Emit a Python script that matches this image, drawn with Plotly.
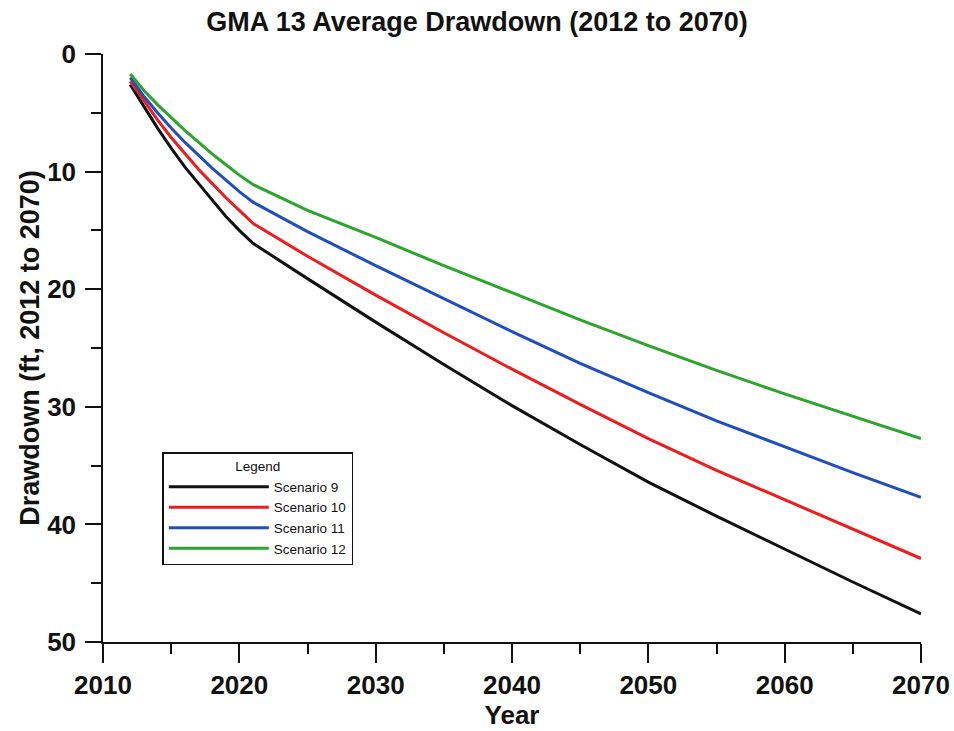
import plotly.graph_objects as go

# Simulated average drawdown (ft) for GMA 13, 2012-2070
years = [2012, 2013, 2014, 2015, 2016, 2017, 2018, 2019, 2020, 2021,
         2025, 2030, 2035, 2040, 2045, 2050, 2055, 2060, 2065, 2070]

scenario_9 = [2.6, 4.5, 6.3, 8.0, 9.6, 11.0, 12.4, 13.8, 15.0, 16.1,
              19.1, 22.8, 26.4, 29.9, 33.2, 36.4, 39.3, 42.1, 44.9, 47.6]
scenario_10 = [2.3, 4.0, 5.6, 7.1, 8.5, 9.8, 11.0, 12.2, 13.3, 14.4,
               17.2, 20.5, 23.7, 26.8, 29.8, 32.7, 35.4, 37.9, 40.4, 42.9]
scenario_11 = [2.0, 3.6, 5.0, 6.3, 7.5, 8.6, 9.7, 10.7, 11.7, 12.6,
               15.1, 18.0, 20.8, 23.6, 26.3, 28.8, 31.2, 33.4, 35.6, 37.7]
scenario_12 = [1.7, 3.1, 4.3, 5.4, 6.5, 7.5, 8.5, 9.4, 10.3, 11.1,
               13.3, 15.6, 18.0, 20.3, 22.6, 24.8, 26.9, 28.9, 30.8, 32.7]

series = [
    ("Scenario 9", scenario_9, "#111111"),
    ("Scenario 10", scenario_10, "#ee1c1c"),
    ("Scenario 11", scenario_11, "#1f4fbf"),
    ("Scenario 12", scenario_12, "#2ca52c"),
]

x_ticks = [2010, 2020, 2030, 2040, 2050, 2060, 2070]
y_ticks = [0, 10, 20, 30, 40, 50]

FONT = "Liberation Sans, Arial, sans-serif"

fig = go.Figure()
for name, vals, color in series:
    fig.add_trace(go.Scatter(
        x=years, y=vals, name=name, mode="lines",
        line=dict(color=color, width=3),
    ))

fig.update_layout(
    width=954, height=731,
    margin=dict(l=103, r=33, t=54, b=89, autoexpand=False),
    paper_bgcolor="white", plot_bgcolor="white",
    font=dict(family=FONT, color="#111111"),
    title=dict(
        text="<b>GMA 13 Average Drawdown (2012 to 2070)</b>",
        font=dict(size=27, family=FONT, color="#111111"),
        x=0.5, xanchor="center", xref="container",
        y=0.970, yanchor="middle",
    ),
    showlegend=True,
    legend=dict(
        x=0.0725, y=0.3226, xanchor="left", yanchor="top",
        bgcolor="white", bordercolor="#111111", borderwidth=1.5,
        font=dict(size=13.5, family=FONT, color="#111111"),
        title=dict(text="Legend", side="top center",
                   font=dict(size=13.5, family=FONT, color="#111111")),
        itemwidth=100,
        tracegroupgap=0,
    ),
)

fig.update_xaxes(
    range=[2010, 2070], tickvals=x_ticks,
    ticktext=[f"<b>{v}</b>" for v in x_ticks],
    automargin=False,
    showgrid=False, zeroline=False,
    showline=True, linecolor="#111111", linewidth=1.5,
    ticks="outside", ticklen=19, tickwidth=1.5, tickcolor="#111111",
    minor=dict(dtick=5, tick0=2010, ticks="outside", ticklen=10,
               tickwidth=1.5, tickcolor="#111111", showgrid=False),
    tickfont=dict(size=26, family=FONT, color="#111111"),
    title=dict(text="<b>Year</b>", standoff=0,
               font=dict(size=26, family=FONT, color="#111111")),
)

fig.update_yaxes(
    range=[50, 0], tickvals=y_ticks,
    ticktext=[f"<b>{v}</b>" for v in y_ticks],
    automargin=False,
    showgrid=False, zeroline=False,
    showline=True, linecolor="#111111", linewidth=1.5,
    ticks="outside", ticklen=16, tickwidth=1.5, tickcolor="#111111",
    minor=dict(dtick=5, tick0=0, ticks="outside", ticklen=10,
               tickwidth=1.5, tickcolor="#111111", showgrid=False),
    tickfont=dict(size=26, family=FONT, color="#111111"),
    ticklabelstandoff=4,
    title=dict(text="<b>Drawdown (ft, 2012 to 2070)</b>", standoff=0,
               font=dict(size=27, family=FONT, color="#111111")),
)

fig.write_html("out.html")
